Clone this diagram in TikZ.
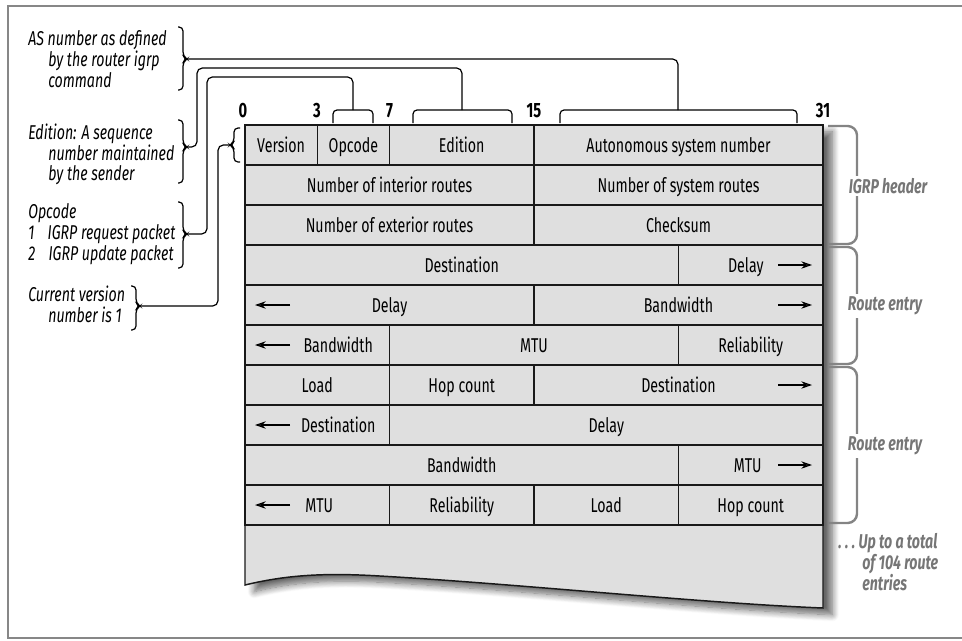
\documentclass[tikz,border=0pt]{standalone}
\usepackage{fontspec}
\setmainfont{Fira Sans}[FakeStretch=0.71]
\usepackage{tikz}
\usetikzlibrary{arrows.meta, shadows.blur}
\definecolor{cellgray}{RGB}{223,223,223}
\definecolor{notegray}{RGB}{118,118,118}
\definecolor{framegray}{RGB}{135,135,135}

% brace left of a bracket: x, top, bottom, tip y, tip name
\newcommand{\notebrace}[5]{%
  \draw[brk] (#1,#2) -- (#1+5,#2) -- (#1+5,#4-3) -- (#1+9,#4) -- (#1+5,#4+3) -- (#1+5,#3) -- (#1,#3);
  \coordinate (#5) at (#1+9,#4);}

\begin{document}
\begin{tikzpicture}[
  x=0.75pt, y=-0.75pt,
  font=\fontsize{15}{17}\selectfont,
  field/.style={draw=black!90, fill=cellgray, line width=1.1pt},
  fieldtext/.style={inner sep=0pt, anchor=base},
  bitnum/.style={inner sep=0pt, anchor=base, font=\fontsize{15.5}{16}\selectfont\bfseries},
  note/.style={align=left, inner sep=0pt, anchor=north west,
               font=\fontsize{15}{15.5}\selectfont\itshape},
  sidenote/.style={align=left, inner sep=2pt, text=notegray,
                   font=\fontsize{15}{15.5}\selectfont\bfseries\itshape},
  brk/.style={line width=0.9pt, rounded corners=3pt},
  conn/.style={line width=0.9pt, rounded corners=4pt},
  sidebrace/.style={draw=notegray!90, line width=1.8pt, rounded corners=7pt},
  arr/.style={-{Stealth[length=8pt, width=5.5pt]}, line width=0.9pt},
]
\useasboundingbox (0,0) rectangle (962,640);
\clip (0,0) rectangle (962,640);

% frame
\draw[framegray, line width=1.5pt] (8,6) rectangle (990,638);

% packet sheet with torn bottom
\draw[field, blur shadow={shadow xshift=7pt, shadow yshift=-5pt, shadow blur radius=5pt, shadow blur steps=10, shadow opacity=60}]
  (245,125) -- (823,125) -- (823,608)
  .. controls (700,603) and (520,584) .. (380,576)
  .. controls (330,573) and (290,574) .. (245,585) -- cycle;

% fields: row / first bit / end bit / text shift / text
\foreach \r/\a/\b/\s/\t in {
  1/0/4/0/Version, 1/4/8/0/Opcode, 1/8/16/0/Edition, 1/16/32/0/Autonomous system number,
  2/0/16/0/Number of interior routes, 2/16/32/0/Number of system routes,
  3/0/16/0/Number of exterior routes, 3/16/32/0/Checksum,
  4/0/24/0/Destination, 4/24/32/-5/Delay,
  5/0/16/0/Delay, 5/16/32/0/Bandwidth,
  6/0/8/21/Bandwidth, 6/8/24/0/MTU, 6/24/32/0/Reliability,
  7/0/8/0/Load, 7/8/16/0/Hop count, 7/16/32/0/Destination,
  8/0/8/21/Destination, 8/8/32/0/Delay,
  9/0/24/0/Bandwidth, 9/24/32/-3/MTU,
  10/0/8/2/MTU, 10/8/16/0/Reliability, 10/16/24/0/Load, 10/24/32/0/Hop count}
{
  \draw[field] ({245+\a*18.0625},{85+\r*40}) rectangle ({245+\b*18.0625},{125+\r*40});
  \node[fieldtext] (f\r-\a) at ({245+(\a+\b)*9.03125+\s},{112+\r*40}) {\t};
}

% continuation arrows
\foreach \r in {5,6,8,10}
  \draw[arr] (290,{105+\r*40}) -- (255,{105+\r*40});
\foreach \r in {4,5,7,9}
  \draw[arr] (778,{105+\r*40}) -- (812,{105+\r*40});

% bit numbers
\node[bitnum] (b0) at (243,117) {0};
\node[bitnum] (b3) at (317,117) {3};
\node[bitnum] (b7) at (389.5,117) {7};
\node[bitnum] (b15) at (534,117) {15};
\node[bitnum] (b31) at (823,117) {31};

% brackets over fields
\draw[brk] (333,123) |- (373,110) -- (373,123);
\coordinate (opbrk) at (353,110);
\draw[brk] (413,123) |- (512,110) -- (512,123);
\coordinate (edbrk) at (462,110);
\draw[brk] (560,123) |- (797,110) -- (797,123);
\coordinate (asbrk) at (678,110);
\draw[brk] (240,128) -- (234,128) -- (234,142) -- (230,145) -- (234,148) -- (234,162) -- (240,162);
\coordinate (verbrk) at (230,145);

% notes on the left
\node[note] (asnote) at (28,30.5) {AS number as defined\\\hspace*{15pt}by the router igrp\\\hspace*{15pt}command};
\node[note] (ednote) at (28,123.5) {Edition: A sequence\\\hspace*{15pt}number maintained\\\hspace*{15pt}by the sender};
\node[note] (opnote) at (28,203.5) {Opcode\\1\hspace{10pt}IGRP request packet\\2\hspace{10pt}IGRP update packet};
\node[note] (vernote) at (28,285.5) {Current version\\\hspace*{15pt}number is 1};

\notebrace{178}{27}{90}{59}{astip}
\notebrace{178}{120}{183}{147}{edtip}
\notebrace{178}{202}{268}{234}{optip}
\notebrace{131}{286}{330}{306}{vertip}

% leader lines
\draw[conn] (astip) -| (asbrk);
\draw[conn] (edtip) -- ++(10,0) -- ++(0,-79) -| (edbrk);
\draw[conn] (optip) -- ++(20,0) -- ++(0,-157) -| (opbrk);
\draw[conn] (vertip) -- ++(78,0) |- (verbrk);

% braces on the right
\draw[sidebrace] (828,126) -- (857,126) -- (857,244) -- (828,244);
\draw[sidebrace] (828,247) -- (857,247) -- (857,364) -- (828,364);
\draw[sidebrace] (828,367) -- (857,367) -- (857,523) -- (828,523);

\node[sidenote, fill=white] (hdr) at (888,186) {IGRP header};
\node[sidenote, fill=white] (re1) at (885,306) {Route entry};
\node[sidenote, fill=white] (re2) at (885,446) {Route entry};
\node[sidenote, inner sep=0pt, anchor=north west] (more) at (838,533.5)
  {.\,.\,.\,Up to a total\\\hspace*{18pt}of 104 route\\\hspace*{18pt}entries};

\end{tikzpicture}
\end{document}
